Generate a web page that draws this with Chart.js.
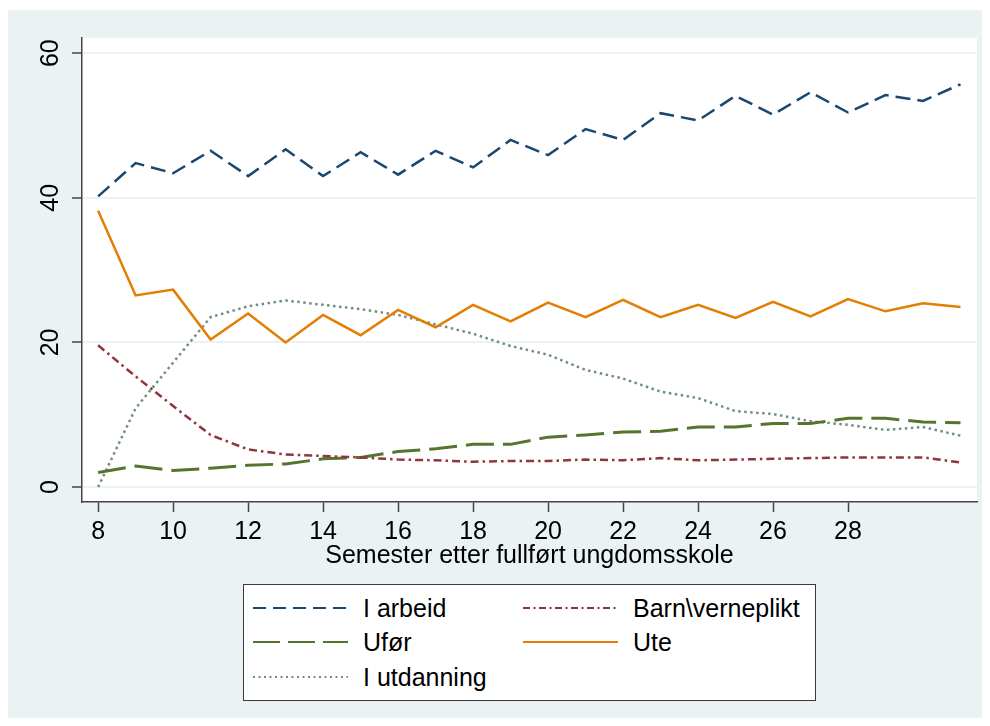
<!DOCTYPE html>
<html>
<head>
<meta charset="utf-8">
<script src="https://cdn.jsdelivr.net/npm/chart.js@4/dist/chart.umd.min.js"></script>
<style>
html,body{margin:0;padding:0;background:#fff;}
#wrap{position:relative;width:990px;height:726px;overflow:hidden;}
#c{position:absolute;left:0;top:0;}
#legend{position:absolute;left:243px;top:584px;width:573px;height:117px;box-sizing:border-box;border:1.5px solid #3a3a3a;background:#fff;}
.item{position:absolute;height:34px;line-height:34px;font-size:25px;font-family:"Liberation Sans",Arial,sans-serif;color:#000;white-space:nowrap;}
.item svg{position:absolute;left:0;top:0;}
.item span{position:absolute;top:0;left:110px;}
</style>
</head>
<body>
<div id="wrap">
  <canvas id="c" width="990" height="726"></canvas>
  <div id="legend"></div>
</div>
<script>
// ---- Data ----
const semesters = [8,9,10,11,12,13,14,15,16,17,18,19,20,21,22,23,24,25,26,27,28,29,30,31];
const xTickValues = [8,10,12,14,16,18,20,22,24,26,28];
const yTickValues = [0,20,40,60];
const xTitle = 'Semester etter fullført ungdomsskole';

const iArbeid   = [40.2,44.8,43.4,46.5,43.0,46.7,43.0,46.3,43.2,46.5,44.2,48.0,45.9,49.5,48.0,51.7,50.7,54.1,51.5,54.6,51.8,54.2,53.4,55.7];
const barnVerneplikt = [19.6,15.3,11.2,7.2,5.2,4.5,4.3,4.1,3.8,3.7,3.5,3.6,3.6,3.8,3.7,4.0,3.7,3.8,3.9,4.0,4.1,4.1,4.1,3.4];
const ufor      = [2.0,2.9,2.3,2.6,3.0,3.2,3.9,4.1,4.9,5.3,5.9,5.9,6.9,7.2,7.6,7.7,8.3,8.3,8.8,8.8,9.5,9.5,9.0,8.9];
const ute       = [38.2,26.5,27.3,20.4,24.0,20.0,23.8,21.0,24.5,22.1,25.2,22.9,25.5,23.5,25.9,23.5,25.2,23.4,25.6,23.6,26.0,24.3,25.4,24.9];
const iUtdanning = [0.0,10.9,17.2,23.5,25.0,25.8,25.2,24.6,23.8,22.5,21.2,19.5,18.3,16.2,15.0,13.2,12.3,10.5,10.1,9.1,8.6,7.9,8.3,7.1];

const seriesNames = ['I arbeid','Barn\\verneplikt','Ufør','Ute','I utdanning'];

// ---- Styles ----
const FONT = '"Liberation Sans", Arial, sans-serif';
const styles = [
  {color:'#1a476f', width:2.5, dash:[15,7],        legendDash:'13 7'},
  {color:'#90353b', width:2.5, dash:[8,4,2.5,4],   legendDash:'7 3.5 2 3.5'},
  {color:'#55752f', width:3,   dash:[28,9],        legendDash:'27 8'},
  {color:'#e37e00', width:2.5, dash:[],            legendDash:''},
  {color:'#6e8e84', width:2.5, dash:[2.5,3.5],     legendDash:'2 3.5'}
];
const seriesData = [iArbeid, barnVerneplikt, ufor, ute, iUtdanning];

const toPoints = arr => semesters.map((x,i)=>({x:x, y:arr[i]}));

const bgPlugin = {
  id:'bg',
  beforeDraw(chart){
    const ctx = chart.ctx, a = chart.chartArea;
    ctx.save();
    ctx.fillStyle = '#ffffff';
    ctx.fillRect(0,0,chart.width,chart.height);
    ctx.fillStyle = '#eaf2f3';
    ctx.fillRect(8,10,974,708);
    ctx.fillStyle = '#ffffff';
    ctx.fillRect(a.left,a.top,a.right-a.left,a.bottom-a.top);
    ctx.restore();
  }
};

Chart.defaults.font.family = FONT;

new Chart(document.getElementById('c'), {
  type:'line',
  data:{
    datasets: seriesNames.map((n,i)=>({
      label:n,
      data:toPoints(seriesData[i]),
      borderColor:styles[i].color,
      backgroundColor:styles[i].color,
      borderWidth:styles[i].width,
      borderDash:styles[i].dash,
      borderCapStyle:'butt',
      borderJoinStyle:'miter',
      pointRadius:0,
      tension:0,
      fill:false
    }))
  },
  options:{
    responsive:false,
    devicePixelRatio:1,
    animation:false,
    layout:{padding:{left:0, top:38, right:13, bottom:144}},
    plugins:{legend:{display:false}, tooltip:{enabled:false}},
    scales:{
      x:{
        type:'linear', min:7.57, max:31.44,
        afterBuildTicks:s=>{ s.ticks = xTickValues.map(v=>({value:v})); },
        afterFit:s=>{ s.height = 80; },
        ticks:{autoSkip:false, minRotation:0, maxRotation:0, color:'#000', font:{size:25, family:FONT}, padding:5, callback:v=>String(v)},
        grid:{display:true, drawOnChartArea:false, drawTicks:true, tickLength:10, tickColor:'#444', tickWidth:1.5},
        border:{display:true, color:'#444', width:1.5},
        title:{display:true, text:xTitle, color:'#000', font:{size:25, family:FONT}, padding:{top:0, bottom:11}}
      },
      y:{
        type:'linear', min:-2.07, max:62.1,
        afterBuildTicks:s=>{ s.ticks = yTickValues.map(v=>({value:v})); },
        afterFit:s=>{ s.width = 82; },
        ticks:{autoSkip:false, minRotation:90, maxRotation:90, crossAlign:'center', color:'#000', font:{size:25, family:FONT}, padding:7, callback:v=>String(v)},
        grid:{display:true, drawOnChartArea:true, color:'#eaf2f3', lineWidth:2, drawTicks:true, tickLength:10, tickColor:'#444', tickWidth:1.5},
        border:{display:true, color:'#444', width:1.5}
      }
    }
  },
  plugins:[bgPlugin]
});

// ---- HTML legend ----
const legendPos = [
  {left:253, center:608},
  {left:523, center:608},
  {left:253, center:642},
  {left:523, center:642},
  {left:253, center:677}
];
const wrap = document.getElementById('wrap');
seriesNames.forEach((n,i)=>{
  const st = styles[i], p = legendPos[i];
  const d = document.createElement('div');
  d.className = 'item';
  d.style.left = p.left + 'px';
  d.style.top = (p.center - 17) + 'px';
  d.style.width = '300px';
  const dash = st.legendDash ? ` stroke-dasharray="${st.legendDash}"` : '';
  const w = i===4 ? 2 : 2;
  d.innerHTML = `<svg width="96" height="34"><line x1="0" y1="17" x2="95" y2="17" stroke="${st.color}" stroke-width="${w}"${dash}/></svg>`;
  const sp = document.createElement('span');
  sp.textContent = n;
  d.appendChild(sp);
  wrap.appendChild(d);
});
</script>
</body>
</html>
